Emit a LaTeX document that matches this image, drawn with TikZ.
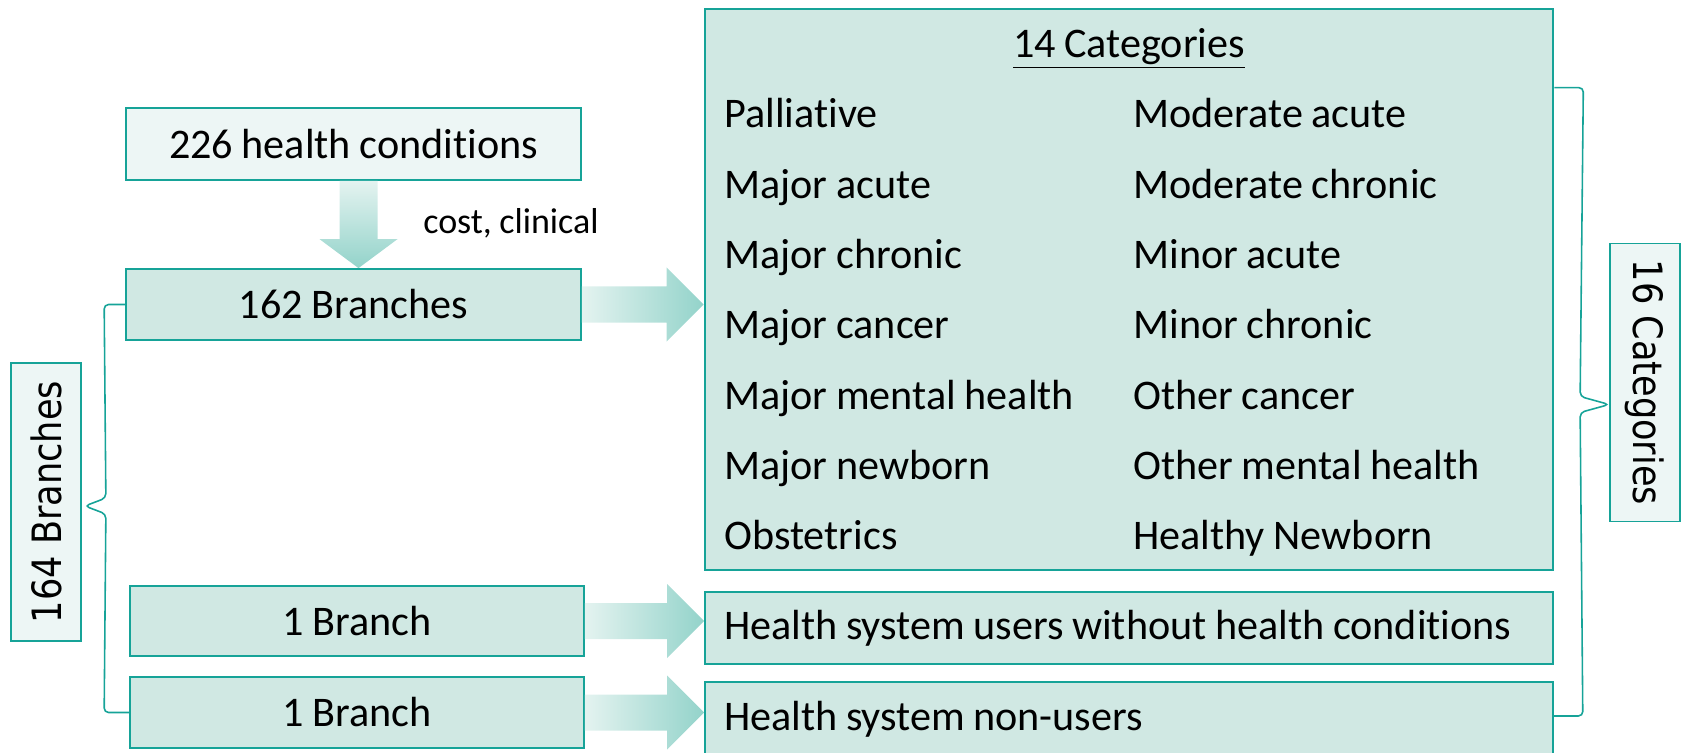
\documentclass[tikz,border=0pt]{standalone}
\usepackage{fontspec}
\usepackage{graphicx}
\setmainfont{Carlito}[Ligatures=NoCommon,WordSpace=0.9]
\newfontfamily\sidefont{DejaVu Sans}
\usetikzlibrary{calc}
\definecolor{boxline}{RGB}{22,163,152}
\definecolor{boxfill}{RGB}{208,232,227}
\definecolor{boxpale}{RGB}{237,246,245}
\definecolor{arrowlight}{RGB}{228,243,240}
\definecolor{arrowdark}{RGB}{147,211,202}
\newcommand\FatArrowRight[2]{%
    \coordinate (ArrowBase) at (#1);
    \coordinate (ArrowTip) at (#2 |- ArrowBase);
    \shade[left color=arrowlight,right color=arrowdark]
        ($(ArrowBase)+(0,-18)$) -- ($(ArrowTip)+(-37,-18)$) -- ($(ArrowTip)+(-37,-37)$)
        -- (ArrowTip) -- ($(ArrowTip)+(-37,37)$) -- ($(ArrowTip)+(-37,18)$)
        -- ($(ArrowBase)+(0,18)$) -- cycle;
}
\newcommand\FatArrowDown[2]{%
    \coordinate (ArrowBase) at (#1);
    \coordinate (ArrowTip) at (ArrowBase |- #2);
    \shade[top color=arrowlight,bottom color=arrowdark]
        ($(ArrowBase)+(-19,0)$) -- ($(ArrowTip)+(-19,-29)$) -- ($(ArrowTip)+(-39,-29)$)
        -- (ArrowTip) -- ($(ArrowTip)+(39,-29)$) -- ($(ArrowTip)+(19,-29)$)
        -- ($(ArrowBase)+(19,0)$) -- cycle;
}

\begin{document}
\begin{tikzpicture}[x=0.02cm,y=-0.02cm,
    font=\fontsize{24}{29}\selectfont,
    tealbox/.style={draw=boxline,line width=1pt,fill=boxfill,inner sep=0pt},
    palebox/.style={tealbox,fill=boxpale},
    sidebox/.style={palebox,minimum width=5.56cm,minimum height=1.40cm,font=\sidefont\fontsize{23}{27}\selectfont},
    item/.style={anchor=base west,inner sep=0pt},
    brace/.style={draw=boxline,line width=0.9pt,rounded corners=2.5pt}]
    \useasboundingbox (0,0) rectangle (1687,753);
    \node[palebox,minimum width=9.10cm,minimum height=1.44cm] (Conditions) at (353.5,144) {226 health conditions};
    \node[tealbox,minimum width=9.10cm,minimum height=1.42cm] (Branches) at (353.5,304.5) {162 Branches};
    \node[tealbox,minimum width=9.08cm,minimum height=1.40cm] (BranchA) at (357,621) {1 Branch};
    \node[tealbox,minimum width=9.08cm,minimum height=1.42cm] (BranchB) at (357,712.5) {1 Branch};
    \node[font=\fontsize{20.5}{25}\selectfont] (Criteria) at (511,223) {cost, clinical};
    \node[tealbox,line width=1.6pt,minimum width=16.96cm,minimum height=11.22cm] (Categories) at (1129,289.5) {};
    \node[anchor=base,inner sep=0pt] (Title) at ($(Categories.north)+(0,50)$) {\underline{14 Categories}};
    \foreach \lname/\rname [count=\i] in {Palliative/Moderate acute,Major acute/Moderate chronic,
            Major chronic/Minor acute,Major cancer/Minor chronic,Major mental health/Other cancer,
            Major newborn/Other mental health,Obstetrics/Healthy Newborn} {
        \node[item] (CatL\i) at (724,{128+70.3*(\i-1)}) {\lname};
        \node[item] (CatR\i) at (1133,{128+70.3*(\i-1)}) {\rname};
    }
    \node[tealbox,minimum width=16.96cm,minimum height=1.44cm] (Users) at (1129,628) {\makebox[16.2cm][l]{Health system users without health conditions}};
    \node[tealbox,minimum width=16.96cm,minimum height=1.48cm] (NonUsers) at (1129,719) {\makebox[16.2cm][l]{Health system non-users}};
    \node[sidebox,rotate=90] (Total164) at (46,502) {\scalebox{0.87}[1]{164 Branches}};
    \node[sidebox,rotate=-90] (Total16) at (1645,382.5) {\scalebox{0.87}[1]{16 Categories}};
    \FatArrowDown{$(Conditions.south)+(5,0)$}{Branches.north}
    \FatArrowRight{Branches.east}{Categories.west}
    \FatArrowRight{BranchA.east}{Users.west}
    \FatArrowRight{BranchB.east}{NonUsers.west}
    \coordinate (LeftTip) at ($(Total164.south)+(3,4)$);
    \coordinate (RightTip) at ($(Total16.south)+(0,22)$);
    \draw[brace] (Branches.west) -- ++(-21,0) -- ($(LeftTip)+(21,-8)$) -- (LeftTip)
        -- ($(LeftTip)+(21,8)$) -- ($(BranchB.west)+(-25,0)$) -- (BranchB.west);
    \draw[brace] ($(Categories.north east)+(0,80)$) -- ++(29,0) -- ($(RightTip)+(-29,-8)$) -- (RightTip)
        -- ($(RightTip)+(-29,8)$) -- ($(NonUsers.east)+(29,-3)$) -- ($(NonUsers.east)+(0,-3)$);
\end{tikzpicture}
\end{document}
